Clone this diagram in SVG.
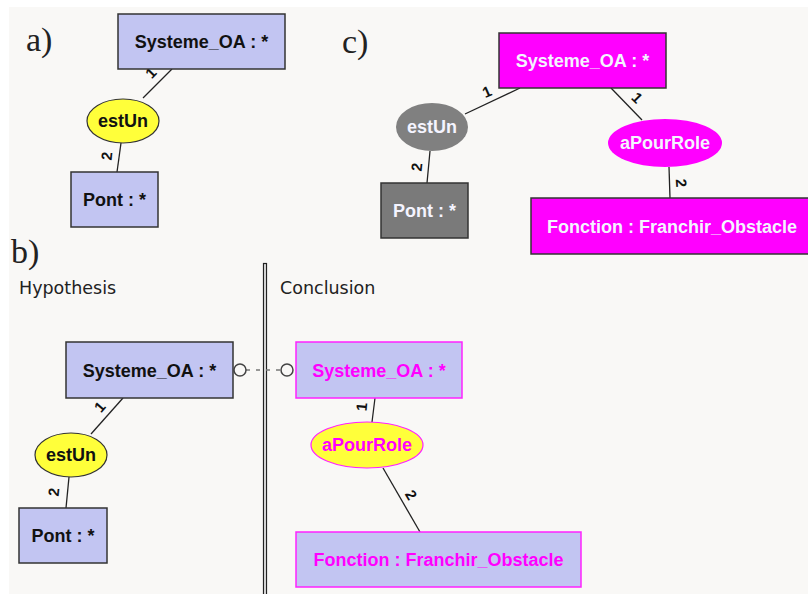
<svg xmlns="http://www.w3.org/2000/svg" width="808" height="594" viewBox="0 0 808 594">
<style>
.lbl{font-family:"Liberation Sans",Arial,sans-serif;font-weight:bold;font-size:18px;text-anchor:middle}
.num{font-family:"Liberation Sans",Arial,sans-serif;font-weight:bold;font-size:15px;text-anchor:middle;fill:#111}
.panel{font-family:"Liberation Serif","Times New Roman",serif;font-size:34px;fill:#222}
.head{font-family:"DejaVu Sans",Verdana,sans-serif;font-size:17.5px;fill:#222}
.lav{fill:#c2c5f2;stroke:#333;stroke-width:1.5}
.lavm{fill:#c2c5f2;stroke:#ff22ff;stroke-width:1.5}
.yel{fill:#ffff3a;stroke:#333;stroke-width:1.2}
.yelm{fill:#ffff3a;stroke:#ff22ff;stroke-width:1.2}
.mag{fill:#ff00ff;stroke:#333;stroke-width:1.5}
.dk{fill:#111}
.mt{fill:#ff00ff}
.wt{fill:#f4f4ff}
.edge{stroke:#222;stroke-width:1.3;fill:none}
</style>
<rect x="0" y="0" width="808" height="594" fill="#ffffff"/>
<rect x="9" y="7" width="799" height="587" fill="#f9f8f6"/>
<text class="panel" x="26" y="51">a)</text>
<text class="panel" x="342" y="53">c)</text>
<text class="panel" x="11" y="263">b)</text>
<text class="head" x="19" y="294">Hypothesis</text>
<text class="head" x="280" y="294">Conclusion</text>
<rect x="263.5" y="263.5" width="3" height="340" fill="#e6e6e6" stroke="#222" stroke-width="1.2"/>
<g id="connectors">
<line class="edge" x1="172" y1="69" x2="143" y2="98"/>
<line class="edge" x1="121" y1="143" x2="117" y2="172"/>
<line class="edge" x1="465" y1="114" x2="520" y2="88"/>
<line class="edge" x1="611" y1="88" x2="642" y2="120"/>
<line class="edge" x1="430" y1="151" x2="427" y2="183"/>
<line class="edge" x1="669" y1="167" x2="670" y2="198"/>
<line class="edge" x1="123" y1="398" x2="91" y2="434"/>
<line class="edge" x1="69" y1="477" x2="66" y2="508"/>
<line class="edge" x1="375" y1="398" x2="372" y2="422"/>
<line class="edge" x1="383" y1="468" x2="420" y2="532"/>
<line x1="246" y1="370" x2="281" y2="370" stroke="#777" stroke-width="1.5" stroke-dasharray="4,6"/>
<circle cx="240" cy="370" r="6" fill="#f9f8f6" stroke="#444" stroke-width="1.5"/>
<circle cx="287" cy="370" r="6" fill="#f9f8f6" stroke="#444" stroke-width="1.5"/>
<text class="num" transform="translate(151,73) rotate(-46)" y="5">1</text>
<text class="num" transform="translate(107,156) rotate(-84)" y="5">2</text>
<text class="num" transform="translate(487,92) rotate(-24)" y="5">1</text>
<text class="num" transform="translate(637,98) rotate(45)" y="5">1</text>
<text class="num" transform="translate(417,167) rotate(-84)" y="5">2</text>
<text class="num" transform="translate(681,183) rotate(86)" y="5">2</text>
<text class="num" transform="translate(100,407) rotate(-49)" y="5">1</text>
<text class="num" transform="translate(54,492) rotate(-84)" y="5">2</text>
<text class="num" transform="translate(362,407) rotate(-85)" y="5">1</text>
<text class="num" transform="translate(411,495) rotate(59)" y="5">2</text>
</g>
<g id="a-systeme">
<rect class="lav" x="118" y="14" width="167" height="55"/>
<text class="lbl dk" x="201.5" y="48">Systeme_OA : *</text>
</g>
<g id="a-estun">
<ellipse class="yel" cx="123" cy="121" rx="36" ry="22"/>
<text class="lbl dk" x="123" y="127">estUn</text>
</g>
<g id="a-pont">
<rect class="lav" x="71" y="172" width="87" height="55"/>
<text class="lbl dk" x="114.5" y="206">Pont : *</text>
</g>
<g id="c-systeme">
<rect class="mag" x="499" y="33" width="167" height="55"/>
<text class="lbl wt" x="582.5" y="67">Systeme_OA : *</text>
</g>
<g id="c-estun">
<ellipse cx="432" cy="127" rx="36" ry="24" fill="#808080"/>
<text class="lbl wt" x="432" y="133">estUn</text>
</g>
<g id="c-pont">
<rect x="381" y="183" width="87" height="55" fill="#7a7a7a" stroke="#333" stroke-width="1.5"/>
<text class="lbl wt" x="424.5" y="217">Pont : *</text>
</g>
<g id="c-apourrole">
<ellipse cx="665" cy="143" rx="57" ry="24" fill="#ff00ff"/>
<text class="lbl wt" x="665" y="149">aPourRole</text>
</g>
<g id="c-fonction">
<rect class="mag" x="531" y="198" width="285" height="56"/>
<text class="lbl wt" x="672" y="233">Fonction : Franchir_Obstacle</text>
</g>
<g id="b-hyp-systeme">
<rect class="lav" x="66" y="342" width="167" height="56"/>
<text class="lbl dk" x="149.5" y="377">Systeme_OA : *</text>
</g>
<g id="b-hyp-estun">
<ellipse class="yel" cx="71" cy="455" rx="36" ry="22"/>
<text class="lbl dk" x="71" y="461">estUn</text>
</g>
<g id="b-hyp-pont">
<rect class="lav" x="19" y="508" width="88" height="55"/>
<text class="lbl dk" x="63" y="542">Pont : *</text>
</g>
<g id="b-con-systeme">
<rect class="lavm" x="296" y="342" width="166" height="56"/>
<text class="lbl mt" x="379" y="377">Systeme_OA : *</text>
</g>
<g id="b-con-apourrole">
<ellipse class="yelm" cx="367" cy="445" rx="56" ry="23"/>
<text class="lbl mt" x="367" y="451">aPourRole</text>
</g>
<g id="b-con-fonction">
<rect class="lavm" x="296" y="532" width="285" height="55"/>
<text class="lbl mt" x="438.5" y="566">Fonction : Franchir_Obstacle</text>
</g>
</svg>
